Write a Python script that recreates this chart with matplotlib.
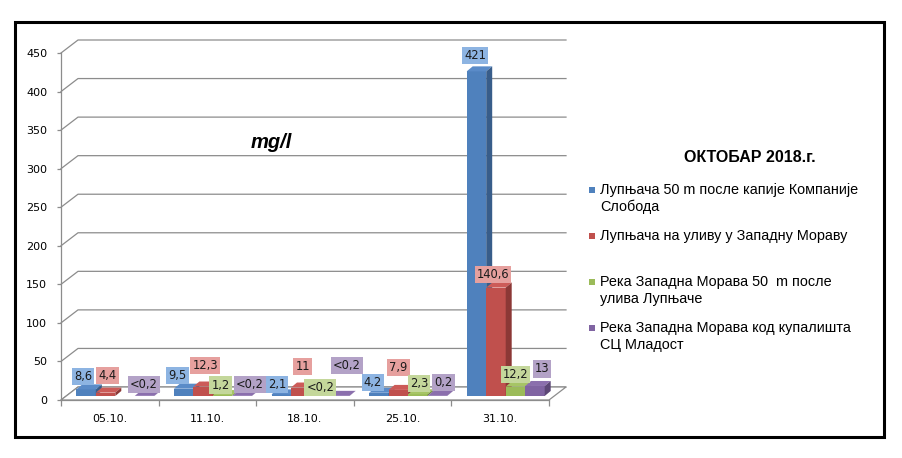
import matplotlib
matplotlib.use("Agg")
import matplotlib.pyplot as plt
from matplotlib.patches import Polygon, Rectangle
import numpy as np

# ---------------- data ----------------
categories = ["05.10.", "11.10.", "18.10.", "25.10.", "31.10."]
series_names = [
    ["Лупњача 50 m после капије Компаније", "Слобода"],
    ["Лупњача на уливу у Западну Мораву"],
    ["Река Западна Морава 50  m после", "улива Лупњаче"],
    ["Река Западна Морава код купалишта", "СЦ Младост"],
]
blue_vals = [8.6, 9.5, 2.1, 4.2, 421]
red_vals = [4.4, 12.3, 11, 7.9, 140.6]
green_vals = [np.nan, 1.2, 0.2, 2.3, 12.2]
purple_vals = [0.2, 0.2, 0.2, 0.2, 13]
blue_labels = ["8,6", "9,5", "2,1", "4,2", "421"]
red_labels = ["4,4", "12,3", "11", "7,9", "140,6"]
green_labels = [None, "1,2", "<0,2", "2,3", "12,2"]
purple_labels = ["<0,2", "<0,2", "<0,2", "0,2", "13"]
y_ticks = [0, 50, 100, 150, 200, 250, 300, 350, 400, 450]
unit_text = "mg/l"
legend_title = "ОКТОБАР 2018.г."

# ---------------- styles / layout ----------------
front_cols = ["#4F81BD", "#C0504D", "#9BBB59", "#8064A2"]
side_cols = ["#385D8A", "#8C3836", "#71893E", "#5C4776"]
top_cols = ["#5A8BC8", "#CC5B58", "#A6C565", "#8B6FAD"]
label_cols = ["#8DB4E2", "#E6A09E", "#C4D79B", "#B3A2C7"]
# label offsets from bar top centre, pixels (right, up)
label_offsets = [
    [(-3, 13), (-6, 13), (-4, 10), (-6, 10), (-1, 16)],
    [(2, 17), (2, 21), (2, 21), (0, 22), (-3, 13)],
    [(0, 0), (-2, 10), (0, 8), (1, 11), (0, 12)],
    [(-1, 11), (8, 11), (7, 30), (6, 13), (7, 17)],
]

W, H, DPI = 902, 458, 100
fig = plt.figure(figsize=(W / DPI, H / DPI), dpi=DPI)
fig.patch.set_facecolor("white")

ax_l, ax_r, ax_b, ax_t = 61, 549, 400, 53  # pixel box of the front plane
ax = fig.add_axes([ax_l / W, 1 - ax_b / H, (ax_r - ax_l) / W, (ax_b - ax_t) / H])
ax.set_xlim(-0.5, 4.5)
ax.set_ylim(0, 450)
ax.patch.set_alpha(0)
ppx = (ax_r - ax_l) / 5.0
ppy = (ax_b - ax_t) / 450.0

floor_dx, floor_dy = 17 / ppx, 13 / ppy
front_dx, front_dy = 5.5 / ppx, 4 / ppy
bar_dx, bar_dy = 6 / ppx, 5 / ppy
bar_w = 19.5 / ppx
grid_col = "#8C8C8C"

# floor
floor = Polygon([(-0.5, 0), (-0.5 + floor_dx, floor_dy), (4.5 + floor_dx, floor_dy), (4.5, 0)],
                closed=True, facecolor="white", edgecolor=grid_col, lw=0.9, zorder=1, clip_on=False)
ax.add_patch(floor)
# gridlines (back wall)
for t in y_ticks:
    ax.plot([-0.5, -0.5 + floor_dx, 4.5 + floor_dx], [t, t + floor_dy, t + floor_dy],
            color=grid_col, lw=0.9, zorder=0.5, clip_on=False)

# spines / ticks
for s in ["top", "right"]:
    ax.spines[s].set_visible(False)
ax.spines["left"].set_color(grid_col)
ax.spines["bottom"].set_color(grid_col)
ax.spines["left"].set_linewidth(0.9)
ax.spines["bottom"].set_linewidth(0.9)
ax.set_yticks(y_ticks)
ax.set_yticklabels([str(t) for t in y_ticks], fontsize=8, family="DejaVu Sans")
ax.tick_params(axis="y", length=3, width=0.9, color=grid_col, pad=7)
ax.set_xticks(np.arange(-0.5, 5.0, 1.0))
ax.set_xticklabels([])
ax.tick_params(axis="x", which="major", length=4, width=0.9, color=grid_col)
ax.set_xticks(np.arange(5), minor=True)
ax.set_xticklabels(categories, minor=True, fontsize=8, family="DejaVu Sans")
ax.tick_params(axis="x", which="minor", length=0, pad=10)

all_vals = [blue_vals, red_vals, green_vals, purple_vals]
all_labels = [blue_labels, red_labels, green_labels, purple_labels]

z = 2
for i in range(len(categories)):
    for k in range(4):
        v = all_vals[k][i]
        if v is None or np.isnan(v):
            continue
        xc = i + (k - 1.5) * bar_w + front_dx
        x0, x1 = xc - bar_w / 2, xc + bar_w / 2
        yb, yt = front_dy, front_dy + v
        # front
        ax.add_patch(Polygon([(x0, yb), (x1, yb), (x1, yt), (x0, yt)], closed=True,
                             facecolor=front_cols[k], edgecolor="none", zorder=z, clip_on=False))
        # top
        ax.add_patch(Polygon([(x0, yt), (x0 + bar_dx, yt + bar_dy), (x1 + bar_dx, yt + bar_dy), (x1, yt)],
                             closed=True, facecolor=top_cols[k], edgecolor="none", zorder=z, clip_on=False))
        # side
        ax.add_patch(Polygon([(x1, yb), (x1 + bar_dx, yb + bar_dy), (x1 + bar_dx, yt + bar_dy), (x1, yt)],
                             closed=True, facecolor=side_cols[k], edgecolor="none", zorder=z, clip_on=False))
        z += 0.01

for i in range(len(categories)):
    for k in range(4):
        lab = all_labels[k][i]
        if lab is None:
            continue
        v = all_vals[k][i]
        xc = i + (k - 1.5) * bar_w + front_dx
        yt = front_dy + v
        ox, oy = label_offsets[k][i]
        ax.annotate(lab, (xc, yt), xytext=(ox, oy), textcoords="offset pixels",
                    ha="center", va="center", fontsize=8.3, family="DejaVu Sans", color="#1a1a1a",
                    zorder=20, annotation_clip=False,
                    bbox=dict(boxstyle="square,pad=0.18", facecolor=label_cols[k], edgecolor="none"))

# unit text
fig.text(271 / W, 1 - 143 / H, unit_text, fontsize=14.5, fontweight="bold", fontstyle="italic",
         family="Liberation Sans", ha="center", va="center")

# legend (manual)
fig.text(750 / W, 1 - 157 / H, legend_title, fontsize=11.5, fontweight="bold",
         family="Liberation Sans", ha="center", va="center")
legend_y = [[190, 207], [236], [282, 299], [328, 345]]
for k in range(4):
    ys = legend_y[k]
    fig.add_artist(Rectangle((589 / W, 1 - (ys[0] + 3) / H), 6 / W, 6 / H,
                             transform=fig.transFigure, facecolor=front_cols[k], edgecolor="none"))
    for line, yy in zip(series_names[k], ys):
        fig.text(600 / W, 1 - yy / H, line, fontsize=10.4, family="Liberation Sans",
                 ha="left", va="center")

# outer frame
fig.add_artist(Rectangle((15 / W, 1 - 437 / H), (884 - 15) / W, (437 - 22) / H,
                         transform=fig.transFigure, fill=False, edgecolor="black", lw=2.2))

fig.savefig("out.png", dpi=DPI)
